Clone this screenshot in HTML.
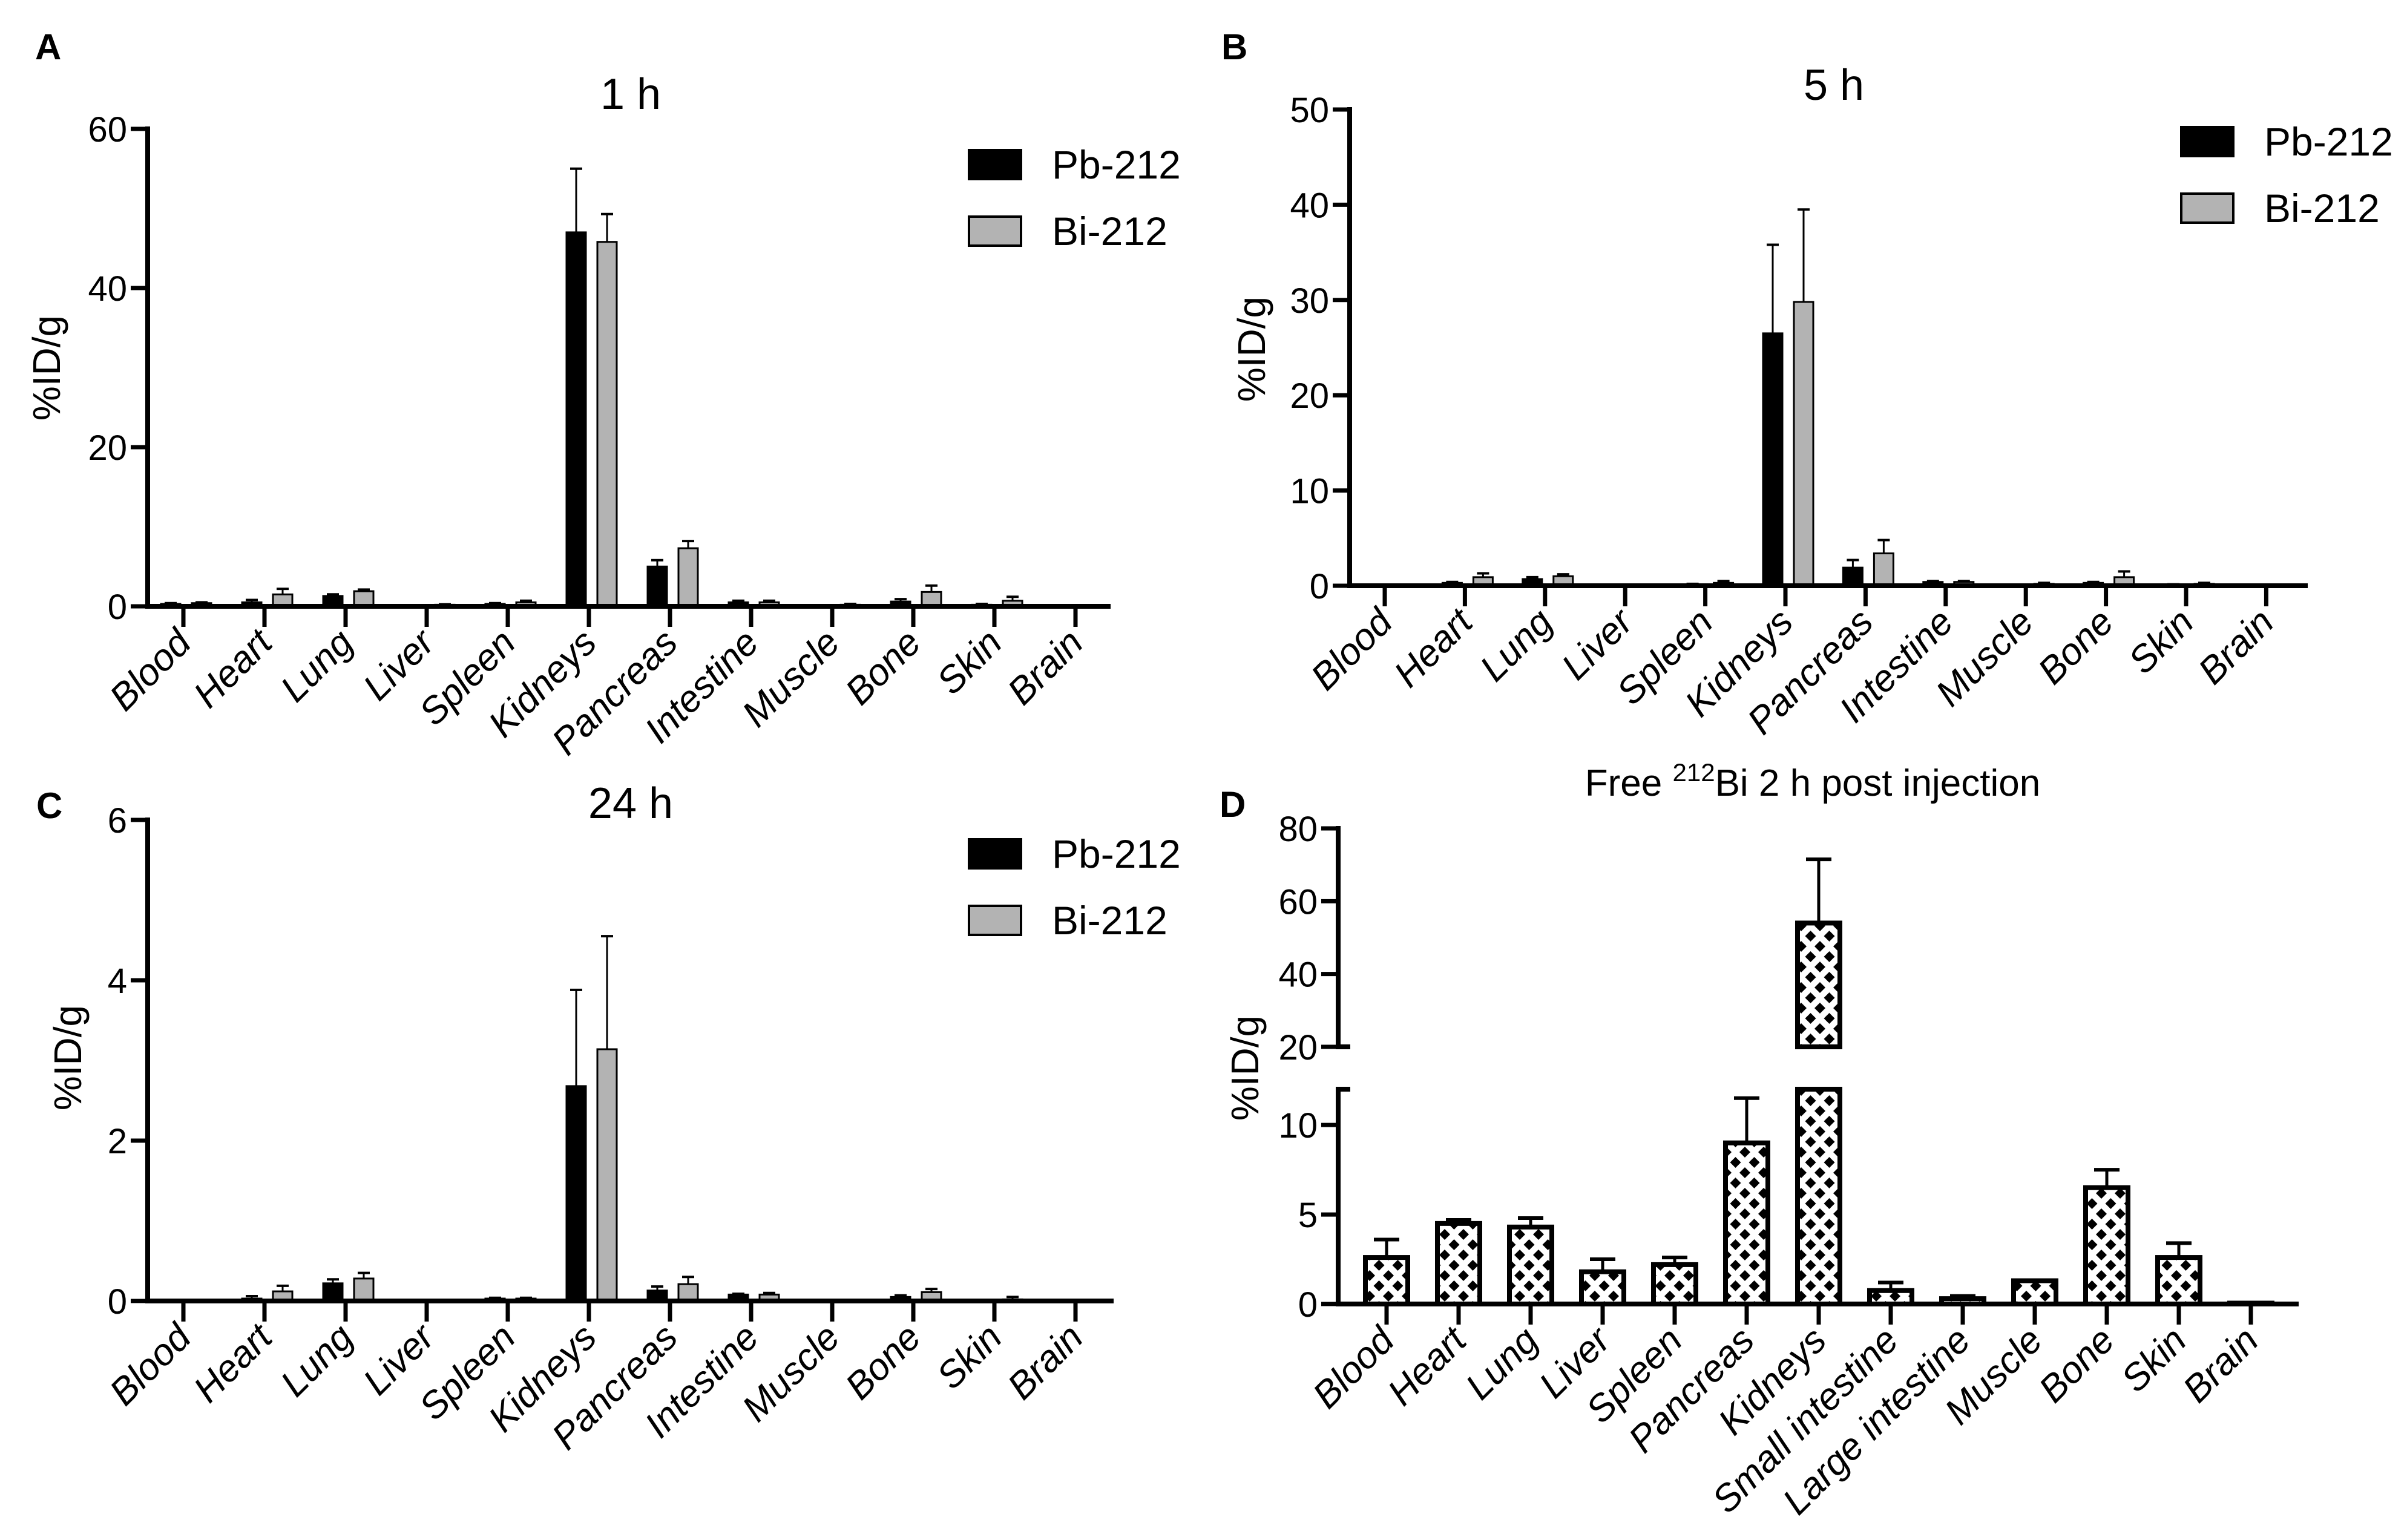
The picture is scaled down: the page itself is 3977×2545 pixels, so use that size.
<!DOCTYPE html>
<html><head><meta charset="utf-8"><style>
html,body{margin:0;padding:0;background:#fff;}
svg{display:block;font-family:"Liberation Sans",Arial,sans-serif;}
</style></head><body>
<svg id="fig" width="3977" height="2545" viewBox="0 0 3977 2545" xmlns="http://www.w3.org/2000/svg">
<defs>
<pattern id="diam" patternUnits="userSpaceOnUse" width="31" height="34" x="0" y="0">
<rect width="31" height="34" fill="#fff"/>
<polygon points="0,-9 9,0 0,9 -9,0" fill="#000"/>
<polygon points="31,-9 40,0 31,9 22,0" fill="#000"/>
<polygon points="0,25 9,34 0,43 -9,34" fill="#000"/>
<polygon points="31,25 40,34 31,43 22,34" fill="#000"/>
<polygon points="15.5,8 24.5,17 15.5,26 6.5,17" fill="#000"/>
</pattern>
</defs>
</svg>
<script>
const organs = ["Blood","Heart","Lung","Liver","Spleen","Kidneys","Pancreas","Intestine","Muscle","Bone","Skin","Brain"];
const organsD = ["Blood","Heart","Lung","Liver","Spleen","Pancreas","Kidneys","Small intestine","Large intestine","Muscle","Bone","Skin","Brain"];
const seriesNames = ["Pb-212","Bi-212"];

const pbA = [0.3,0.5,1.3,0.1,0.3,47,5,0.5,0.1,0.6,0.2,0];
const pbAErr = [0.4,0.8,1.5,0.15,0.4,55,5.8,0.7,0.15,0.9,0.3,0];
const biA = [0.4,1.5,1.9,0.2,0.5,45.8,7.3,0.5,0.2,1.8,0.7,0.1];
const biAErr = [0.5,2.2,2.1,0.25,0.7,49.3,8.2,0.7,0.3,2.6,1.2,0.15];
const ticksA = [0,20,40,60];

const pbB = [0.05,0.3,0.7,0.05,0.15,26.5,1.9,0.4,0.05,0.3,0.1,0];
const pbBErr = [0.08,0.4,0.9,0.08,0.2,35.8,2.7,0.5,0.08,0.4,0.15,0];
const biB = [0.1,0.9,1.0,0.1,0.3,29.8,3.4,0.4,0.2,0.9,0.2,0];
const biBErr = [0.12,1.3,1.2,0.12,0.5,39.5,4.8,0.5,0.3,1.5,0.3,0];
const ticksB = [0,10,20,30,40,50];

const pbC = [0,0.03,0.22,0.01,0.03,2.68,0.13,0.08,0,0.05,0,0];
const pbCErr = [0,0.06,0.27,0.015,0.04,3.88,0.18,0.09,0,0.07,0,0];
const biC = [0,0.12,0.28,0.01,0.03,3.14,0.21,0.08,0.01,0.11,0.02,0];
const biCErr = [0,0.19,0.35,0.015,0.04,4.55,0.3,0.1,0.015,0.15,0.05,0];
const ticksC = [0,2,4,6];

const valD = [2.6,4.5,4.3,1.8,2.2,9.0,54,0.75,0.3,1.3,6.5,2.6,0.05];
const errD = [3.6,4.7,4.8,2.5,2.6,11.5,71.5,1.2,0.45,1.3,7.5,3.4,0.05];
const ticksDLow = [0,5,10];
const ticksDHigh = [20,40,60,80];

const NS = "http://www.w3.org/2000/svg";
const svg = document.getElementById('fig');
function mk(tag, attrs, parent){const e=document.createElementNS(NS,tag);for(const k in attrs)e.setAttribute(k,attrs[k]);(parent||svg).appendChild(e);return e;}
function txt(s, attrs, parent){const e=mk('text',attrs,parent);e.textContent=s;return e;}

function panel(cfg){
  const g = mk('g',{});
  
  
  const y = v => cfg.y0 - (v/cfg.ymax)*(cfg.y0-cfg.ytop);
  const cx = i => cfg.c0 + i*cfg.dc;
  const L = txt(cfg.letter,{x:cfg.lx,y:cfg.ly,'font-size':60,'font-weight':'bold'},g);
  
  
  const T = txt(cfg.title,{x:cfg.tx,y:cfg.ty,'font-size':72,'text-anchor':'middle'},g);
  
  
  const series=[[cfg.pb,cfg.pbE,'#000',-37],[cfg.bi,cfg.biE,'#b3b3b3',14]];
  series.forEach((s,si)=>{
    s[0].forEach((v,i)=>{
      const x0 = cx(i)+s[3];
      const top = y(v);
      const e = s[1][i];
      if(e>v){
        const l = mk('line',{x1:x0+16,x2:x0+16,y1:top,y2:y(e),stroke:'#000','stroke-width':3},g);
        
        
        const c = mk('line',{x1:x0+6,x2:x0+26,y1:y(e),y2:y(e),stroke:'#000','stroke-width':4},g);
        
        
      }
      const h = Math.max(cfg.y0-top,0);
      const r = mk('rect',{x:x0,y:top,width:32,height:h,fill:s[2],stroke:'#000','stroke-width':3},g);
      
      
    });
  });
  const ya = mk('line',{x1:cfg.ax,x2:cfg.ax,y1:cfg.ytop-4,y2:cfg.y0+4,stroke:'#000','stroke-width':8},g);
  
  
  const xa = mk('line',{x1:cfg.ax-4,x2:cfg.xEnd,y1:cfg.y0,y2:cfg.y0,stroke:'#000','stroke-width':8},g);
  
  
  cfg.ticks.forEach(t=>{
    mk('line',{x1:cfg.ax-28,x2:cfg.ax,y1:y(t),y2:y(t),stroke:'#000','stroke-width':7},g);
    const tl = txt(String(t),{x:cfg.ax-34,y:y(t)+21,'font-size':58,'text-anchor':'end'},g);
    
    
  });
  organs.forEach((o,i)=>{
    mk('line',{x1:cx(i),x2:cx(i),y1:cfg.y0,y2:cfg.y0+34,stroke:'#000','stroke-width':7},g);
    const lab = txt(o,{x:0,y:0,'font-size':62,'font-style':'italic','text-anchor':'end',transform:`translate(${cx(i)+16},${cfg.y0+64}) rotate(-45)`},g);
    
    
  });
  const yt = txt('%ID/g',{x:0,y:0,'font-size':64,'text-anchor':'middle','dominant-baseline':'central',transform:`translate(${cfg.yx},${cfg.yy}) rotate(-90)`},g);
  
  
  const lg = mk('g',{},g);
  
  
  const cols=['#000','#b3b3b3'];
  seriesNames.forEach((n,k)=>{
    const yy = cfg.legY + k*110;
    const sw = mk('rect',{x:cfg.legX,y:yy,width:86,height:48,fill:cols[k],stroke:'#000','stroke-width':4},lg);
    
    
    const lt = txt(n,{x:cfg.legX+137,y:yy+47,'font-size':66},lg);
    
    
  });
}

panel({id:'panel-a',letter:'A',lx:58,ly:98,title:'1 h',tx:1042,ty:180,ax:244,y0:1002,ytop:213,ymax:60,ticks:ticksA,xEnd:1835,c0:303,dc:134,pb:pbA,pbE:pbAErr,bi:biA,biE:biAErr,yx:77,yy:608,legX:1601,legY:248});
panel({id:'panel-b',letter:'B',lx:2018,ly:98,title:'5 h',tx:3030,ty:165,ax:2230,y0:968,ytop:181,ymax:50,ticks:ticksB,xEnd:3813,c0:2288,dc:132.4,pb:pbB,pbE:pbBErr,bi:biB,biE:biBErr,yx:2068,yy:577,legX:3604,legY:210});
panel({id:'panel-c',letter:'C',lx:60,ly:1352,title:'24 h',tx:1042,ty:1352,ax:244,y0:2150,ytop:1355,ymax:6,ticks:ticksC,xEnd:1840,c0:303,dc:134,pb:pbC,pbE:pbCErr,bi:biC,biE:biCErr,yx:112,yy:1748,legX:1601,legY:1387});

(function(){
  const g = mk('g',{});
  
  
  const ax=2211, y0=2155, lowTop=1800, lowMax=12, hiBot=1730, hiTop=1369, hiMin=20, hiMax=80, xEnd=3798, c0=2291, dc=119, bw=70;
  const yl = v => y0 - (Math.min(v,lowMax)/lowMax)*(y0-lowTop);
  const yh = v => hiBot - ((v-hiMin)/(hiMax-hiMin))*(hiBot-hiTop);
  const L = txt('D',{x:2015,y:1350,'font-size':60,'font-weight':'bold'},g);
  
  
  const T = mk('text',{x:2995,y:1315,'font-size':62,'text-anchor':'middle'},g);
  
  
  const t1=mk('tspan',{},T); t1.textContent='Free ';
  const t2=mk('tspan',{dy:-24,'font-size':42},T); t2.textContent='212';
  const t3=mk('tspan',{dy:24},T); t3.textContent='Bi 2 h post injection';
  valD.forEach((v,i)=>{
    const c = c0+i*dc;
    const e = errD[i];
    if(v>lowMax){
      const eb = mk('line',{x1:c,x2:c,y1:yh(v),y2:yh(e),stroke:'#000','stroke-width':5},g);
      
      
      mk('line',{x1:c-21,x2:c+21,y1:yh(e),y2:yh(e),stroke:'#000','stroke-width':6},g);
      const r1 = mk('rect',{x:c-bw/2,y:yh(v),width:bw,height:hiBot-yh(v),fill:'url(#diam)',stroke:'#000','stroke-width':8},g);
      
      
      const r2 = mk('rect',{x:c-bw/2,y:lowTop,width:bw,height:y0-lowTop,fill:'url(#diam)',stroke:'#000','stroke-width':8},g);
      
      
    } else {
      if(e>v){
        const eb = mk('line',{x1:c,x2:c,y1:yl(v),y2:yl(e),stroke:'#000','stroke-width':5},g);
        
        
        mk('line',{x1:c-21,x2:c+21,y1:yl(e),y2:yl(e),stroke:'#000','stroke-width':6},g);
      }
      const r = mk('rect',{x:c-bw/2,y:yl(v),width:bw,height:y0-yl(v),fill:'url(#diam)',stroke:'#000','stroke-width':8},g);
      
      
    }
  });
  const ya1 = mk('line',{x1:ax,x2:ax,y1:hiTop-4,y2:hiBot+4,stroke:'#000','stroke-width':8},g);
  
  
  const ya2 = mk('line',{x1:ax,x2:ax,y1:lowTop-4,y2:y0+4,stroke:'#000','stroke-width':8},g);
  
  
  mk('line',{x1:ax-4,x2:ax+20,y1:lowTop,y2:lowTop,stroke:'#000','stroke-width':8},g);
  mk('line',{x1:ax-4,x2:ax+20,y1:hiBot,y2:hiBot,stroke:'#000','stroke-width':8},g);
  const xa = mk('line',{x1:ax-4,x2:xEnd,y1:y0,y2:y0,stroke:'#000','stroke-width':8},g);
  
  
  ticksDLow.forEach(t=>{
    mk('line',{x1:ax-28,x2:ax,y1:yl(t),y2:yl(t),stroke:'#000','stroke-width':7},g);
    const tl = txt(String(t),{x:ax-34,y:yl(t)+21,'font-size':58,'text-anchor':'end'},g);
    
    
  });
  ticksDHigh.forEach(t=>{
    mk('line',{x1:ax-28,x2:ax,y1:yh(t),y2:yh(t),stroke:'#000','stroke-width':7},g);
    const tl = txt(String(t),{x:ax-34,y:yh(t)+21,'font-size':58,'text-anchor':'end'},g);
    
    
  });
  organsD.forEach((o,i)=>{
    const c=c0+i*dc;
    mk('line',{x1:c,x2:c,y1:y0,y2:y0+34,stroke:'#000','stroke-width':7},g);
    const lab = txt(o,{x:0,y:0,'font-size':62,'font-style':'italic','text-anchor':'end',transform:`translate(${c+16},${y0+64}) rotate(-45)`},g);
    
    
  });
  const yt = txt('%ID/g',{x:0,y:0,'font-size':64,'text-anchor':'middle','dominant-baseline':'central',transform:'translate(2057,1765) rotate(-90)'},g);
  
  
})();
</script>
</body></html>
